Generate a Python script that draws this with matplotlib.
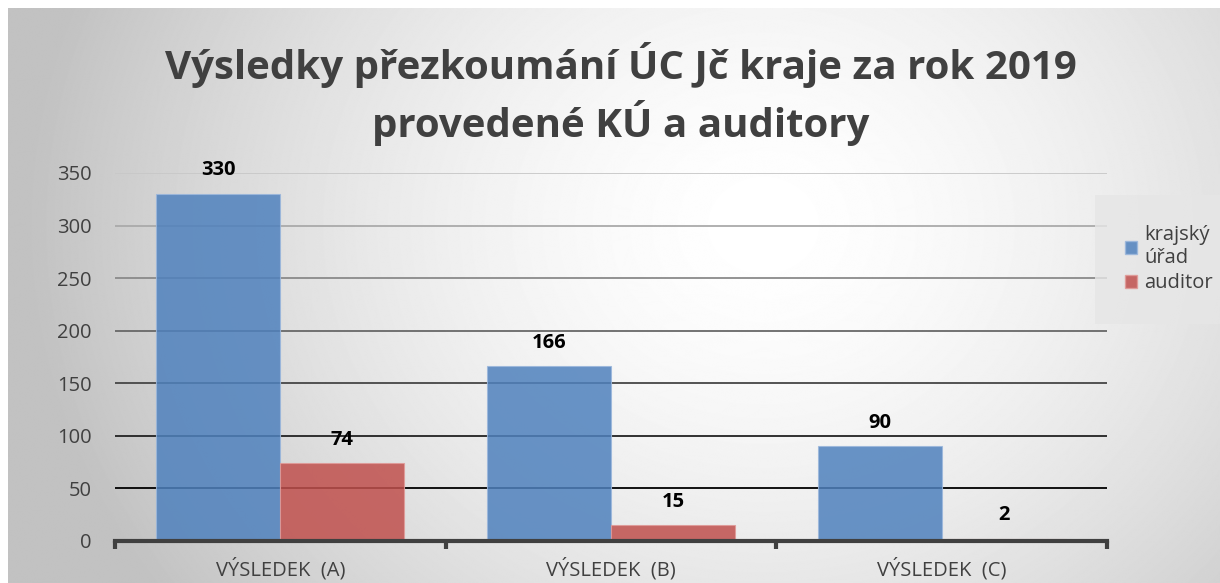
import numpy as np
import matplotlib.pyplot as plt
from matplotlib.patches import Patch

categories = ['VÝSLEDEK  (A)', 'VÝSLEDEK  (B)', 'VÝSLEDEK  (C)']
kraj = [330, 166, 90]
auditor = [74, 15, 2]
series_names = ['krajský\núřad', 'auditor']
title = 'Výsledky přezkoumání ÚC Jč kraje za rok 2019\nprovedené KÚ a auditory'

blue = '#4f81bd'
red = '#c0504d'
txt = '#404040'

W, H = 1220, 583
fig = plt.figure(figsize=(W / 100, H / 100), dpi=100)

# gradient background
bg = fig.add_axes([8 / W, 0, 1 - 8 / W, 1 - 8 / H])
yy, xx = np.mgrid[0:H, 0:W]
d = np.sqrt(((xx - 760) / 740.0) ** 2 + ((yy - 220) / 650.0) ** 2)
shade = 1 - 0.24 * np.clip(d, 0, 1) ** 1.6
bg.imshow(shade, cmap='gray', vmin=0, vmax=1, aspect='auto', extent=[0, 1, 0, 1])
bg.axis('off')

ax = fig.add_axes([115 / W, (H - 541) / H, (1107 - 115) / W, (541 - 173) / H])
ax.patch.set_alpha(0)

x = np.arange(len(categories))
w = 0.375
b1 = ax.bar(x - w / 2, kraj, w, color=blue, alpha=0.85, edgecolor='#9bb7dc', linewidth=0.8, zorder=3)
b2 = ax.bar(x + w / 2, auditor, w, color=red, alpha=0.85, edgecolor='#e09a98', linewidth=0.8, zorder=3)

for bars in (b1, b2):
    for r in bars:
        ax.text(r.get_x() + r.get_width() / 2, r.get_height() + 13, str(int(r.get_height())),
                ha='center', va='bottom', fontsize=14.5, fontweight='bold', color='black',
                family='Open Sans')

ax.set_xlim(-0.5, 2.5)
ax.set_ylim(0, 350)
ax.set_yticks(range(0, 351, 50))

grid_cols = ['#c8c8c8', '#aaaaaa', '#8a8a8a', '#686868', '#464646', '#222222', '#000000']
for val, c in zip(range(350, 0, -50), grid_cols):
    ax.axhline(val, color=c, linewidth=1.3, zorder=1)

for s in ['top', 'right', 'left']:
    ax.spines[s].set_visible(False)
ax.spines['bottom'].set_color(txt)
ax.spines['bottom'].set_linewidth(3)
ax.spines['bottom'].set_zorder(4)

ax.set_xticks([-0.5, 0.5, 1.5, 2.5])
ax.set_xticklabels([])
ax.set_xticks(x, minor=True)
ax.set_xticklabels(categories, minor=True, fontsize=14.5, color=txt, family='Open Sans')
ax.tick_params(axis='x', which='major', length=6, width=3, color=txt, direction='out')
ax.tick_params(axis='x', which='minor', length=0, pad=12)
ax.tick_params(axis='y', length=0, labelsize=14.5, labelcolor=txt, pad=17)
for lab in ax.get_yticklabels():
    lab.set_family('Open Sans')

fig.text(621 / W, 1 - 94 / H, title, ha='center', va='center', fontsize=29, fontweight='bold',
         color=txt, family='Open Sans', linespacing=1.3)

handles = [Patch(facecolor=blue, alpha=0.85, edgecolor='#9bb7dc'),
           Patch(facecolor=red, alpha=0.85, edgecolor='#e09a98')]
leg = fig.legend(handles, series_names, loc='upper left', bbox_to_anchor=(1085 / W, 1 - 185 / H),
                 frameon=True, fancybox=False, handlelength=0.6, handleheight=0.6,
                 handletextpad=0.35, borderpad=1.5, labelspacing=0.25, labelcolor=txt,
                 prop={'family': 'Open Sans', 'size': 14.5})
leg.get_frame().set_facecolor('#e6e6e6')
leg.get_frame().set_edgecolor('none')
leg.get_frame().set_alpha(0.8)

fig.savefig('out.png', dpi=100)
